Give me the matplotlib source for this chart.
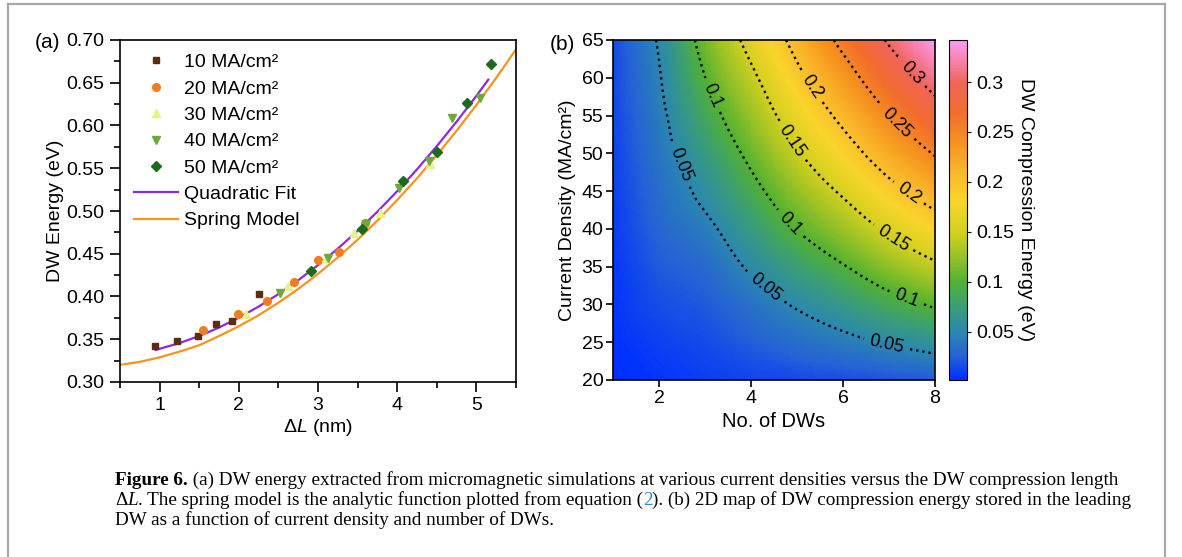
import matplotlib
matplotlib.use("Agg")
import matplotlib.pyplot as plt
import matplotlib.tri as mtri
import numpy as np
from matplotlib.colors import LinearSegmentedColormap, Normalize
from matplotlib.lines import Line2D
from matplotlib.ticker import FormatStrFormatter, MultipleLocator

plt.rcParams["font.family"] = ["Liberation Sans", "DejaVu Sans"]
plt.rcParams["mathtext.fontset"] = "custom"
plt.rcParams["mathtext.rm"] = "Liberation Sans"
plt.rcParams["mathtext.it"] = "Liberation Sans:italic"
plt.rcParams["mathtext.bf"] = "Liberation Sans:bold"

# ---- panel (a): DW energy vs compression length ----
dl_10 = [0.94, 1.22, 1.48, 1.71, 1.92, 2.25]
e_10 = [0.342, 0.348, 0.354, 0.3675, 0.371, 0.403]
dl_20 = [1.55, 1.99, 2.36, 2.70, 3.00, 3.26, 3.59]
e_20 = [0.361, 0.380, 0.395, 0.417, 0.443, 0.452, 0.486]
dl_30 = [2.09, 2.62, 3.10, 3.46, 3.78, 4.41]
e_30 = [0.380, 0.412, 0.445, 0.474, 0.498, 0.555]
dl_40 = [2.52, 3.12, 3.61, 4.02, 4.40, 4.69, 5.04]
e_40 = [0.404, 0.445, 0.485, 0.527, 0.559, 0.609, 0.632]
dl_50 = [2.91, 3.56, 4.07, 4.50, 4.88, 5.18]
e_50 = [0.430, 0.4785, 0.5355, 0.5686, 0.626, 0.6716]

fit_dl = [0.95, 1.25, 1.5, 1.75, 2.0, 2.25, 2.5, 2.75, 3.0, 3.25, 3.5,
          3.75, 4.0, 4.25, 4.5, 4.75, 5.0, 5.15]
fit_e = [0.3375, 0.3455, 0.3538, 0.3637, 0.3752, 0.3882, 0.4028, 0.4190,
         0.4367, 0.4560, 0.4768, 0.4992, 0.5232, 0.5487, 0.5758, 0.6045,
         0.6347, 0.6536]
spring_dl = [0.5, 0.75, 1.0, 1.25, 1.5, 1.75, 2.0, 2.25, 2.5, 2.75, 3.0,
             3.25, 3.5, 3.75, 4.0, 4.25, 4.5, 4.75, 5.0, 5.25, 5.5]
spring_e = [0.3200, 0.3236, 0.3288, 0.3355, 0.3430, 0.3537, 0.3652, 0.3781,
            0.3927, 0.4088, 0.4265, 0.4457, 0.4664, 0.4889, 0.5128, 0.5382,
            0.5653, 0.5939, 0.6240, 0.6557, 0.6890]

# ---- panel (b): compression energy map ----
n_dw = [1, 2, 3, 4, 5, 6, 7, 8]
j_cur = [20, 25, 30, 35, 40, 45, 50, 55, 60, 65]
energy = [
    [0.002, 0.005, 0.009, 0.012, 0.014, 0.016, 0.019, 0.022],
    [0.003, 0.010, 0.015, 0.024, 0.033, 0.042, 0.053, 0.0625],
    [0.005, 0.016, 0.022, 0.036, 0.053, 0.070, 0.088, 0.104],
    [0.006, 0.022, 0.031, 0.054, 0.077, 0.098, 0.122, 0.144],
    [0.008, 0.028, 0.0435, 0.072, 0.101, 0.127, 0.156, 0.182],
    [0.009, 0.033, 0.0576, 0.090, 0.124, 0.155, 0.189, 0.218],
    [0.011, 0.038, 0.0716, 0.108, 0.147, 0.183, 0.220, 0.2525],
    [0.012, 0.043, 0.0857, 0.126, 0.169, 0.209, 0.249, 0.284],
    [0.014, 0.048, 0.0997, 0.143, 0.191, 0.234, 0.277, 0.314],
    [0.015, 0.053, 0.113, 0.161, 0.212, 0.259, 0.304, 0.342],
]
contour_levels = [0.05, 0.1, 0.15, 0.2, 0.25, 0.3]
label_spots = [(2.49, 48.5), (4.30, 32.1), (6.95, 24.6),
               (3.16, 57.7), (4.85, 40.7), (7.38, 30.8),
               (4.85, 51.5), (7.06, 38.5),
               (5.28, 58.6), (7.42, 44.7),
               (7.17, 54.0), (7.49, 60.6)]

cmap = LinearSegmentedColormap.from_list("dw", [
    (0.000, "#0030ff"), (0.068, "#2563d6"), (0.141, "#2b88b0"),
    (0.215, "#3b9e78"), (0.288, "#52b232"), (0.362, "#98c226"),
    (0.435, "#d3d01f"), (0.524, "#fad52c"), (0.612, "#f9b82a"),
    (0.700, "#f6921f"), (0.788, "#f26d2c"), (0.876, "#f0655a"),
    (1.000, "#fb9cf5")])
norm = Normalize(vmin=0.002, vmax=0.342)

W, H = 1182, 557
fig = plt.figure(figsize=(W / 100, H / 100), dpi=100)


def box(l, t, r, b):
    return [l / W, 1 - b / H, (r - l) / W, (b - t) / H]


# ---------- (a) ----------
ax = fig.add_axes(box(120, 40, 516, 382))
ax.plot(dl_10, e_10, ls="none", marker="s", ms=5, color="#5a2d0c", label="10 MA/cm²", zorder=3)
ax.plot(dl_20, e_20, ls="none", marker="o", ms=5.5, color="#f47c20", label="20 MA/cm²", zorder=3)
ax.plot(dl_30, e_30, ls="none", marker="^", ms=6, color="#e6f28a", label="30 MA/cm²", zorder=3)
ax.plot(dl_40, e_40, ls="none", marker="v", ms=6, color="#6ca83a", label="40 MA/cm²", zorder=3)
ax.plot(dl_50, e_50, ls="none", marker="D", ms=5, color="#1b6b1b", label="50 MA/cm²", zorder=3)
ax.plot(fit_dl, fit_e, color="#8a2be2", lw=1.6, label="Quadratic Fit", zorder=2)
ax.plot(spring_dl, spring_e, color="#f7931e", lw=1.6, label="Spring Model", zorder=2)
ax.set_xlim(0.5, 5.5)
ax.set_ylim(0.30, 0.70)
ax.xaxis.set_major_locator(MultipleLocator(1))
ax.xaxis.set_minor_locator(MultipleLocator(0.5))
ax.yaxis.set_major_locator(MultipleLocator(0.05))
ax.yaxis.set_minor_locator(MultipleLocator(0.025))
ax.yaxis.set_major_formatter(FormatStrFormatter("%.2f"))
ax.tick_params(which="both", direction="out", width=1.2, labelsize=14, pad=4)
ax.tick_params(which="major", length=7)
ax.tick_params(which="minor", length=4)
for s in ax.spines.values():
    s.set_linewidth(1.2)
ax.set_xlabel(r"$\Delta L$ (nm)", fontsize=14, labelpad=2)
ax.set_ylabel("DW Energy (eV)", fontsize=14, labelpad=2)
ax.legend(loc="upper left", frameon=False, fontsize=14, handlelength=2.3,
          handletextpad=0.3, labelspacing=0.45, borderaxespad=0.2, borderpad=0.5)
fig.text(35 / W, 1 - 43 / H, "(a)", fontsize=15, va="center")

# ---------- (b) ----------
bx = fig.add_axes(box(613, 40, 935, 380))
nn, jj = np.meshgrid(n_dw, j_cur)
tri = mtri.Triangulation(nn.ravel(), jj.ravel())
zz = np.asarray(energy).ravel()
refiner = mtri.UniformTriRefiner(tri)
interp = mtri.CubicTriInterpolator(tri, zz, kind="geom")
tri_f, z_f = refiner.refine_field(zz, triinterpolator=interp, subdiv=4)
pc = bx.tripcolor(tri_f, z_f, shading="gouraud", cmap=cmap, norm=norm, rasterized=True)
cs = bx.tricontour(tri_f, z_f, levels=contour_levels, colors="black",
                   linestyles=":", linewidths=1.7)
bx.clabel(cs, fmt="%g", fontsize=13, inline=True, inline_spacing=6, manual=label_spots)
bx.set_xlim(1, 8)
bx.set_ylim(20, 65)
bx.set_xticks([2, 4, 6, 8])
bx.set_yticks(j_cur)
bx.tick_params(direction="out", length=5, width=1.2, labelsize=14, pad=2)
for s in bx.spines.values():
    s.set_linewidth(1.2)
bx.set_xlabel("No. of DWs", fontsize=14.5, labelpad=4)
bx.set_ylabel("Current Density (MA/cm²)", fontsize=14, labelpad=4)
fig.text(550 / W, 1 - 45 / H, "(b)", fontsize=15, va="center")

cax = fig.add_axes(box(949, 40, 967, 380))
cb = fig.colorbar(pc, cax=cax, ticks=[0.05, 0.1, 0.15, 0.2, 0.25, 0.3], format="%g")
cb.outline.set_linewidth(0.8)
cax.tick_params(direction="out", length=3, width=0.8, labelsize=14, pad=4)
cb.set_label("DW Compression Energy (eV)", fontsize=14, rotation=270, labelpad=14)

# ---------- caption ----------
cap = fig.add_axes([0, 0, 1, 1], zorder=-1)
cap.axis("off")
serif = dict(family=["Liberation Serif", "DejaVu Serif"], fontsize=13.8)


def caption_line(pieces, y):
    prev = None
    for txt, extra in pieces:
        kw = dict(serif)
        kw.update(extra)
        if prev is None:
            prev = cap.annotate(txt, xy=(115, H - y), xycoords="figure pixels",
                                va="baseline", ha="left", **kw)
        else:
            prev = cap.annotate(txt, xy=(1, H - y), xycoords=(prev, "figure pixels"),
                                va="baseline", ha="left", **kw)


caption_line([("Figure 6.", {"weight": "bold"}),
              (" (a) DW energy extracted from micromagnetic simulations at various current "
               "densities versus the DW compression length", {})], 485)
caption_line([("Δ", {}), ("L", {"style": "italic"}),
              (". The spring model is the analytic function plotted from equation (", {}),
              ("2", {"color": "#2a8fd0"}),
              ("). (b) 2D map of DW compression energy stored in the leading", {})], 505)
caption_line([("DW as a function of current density and number of DWs.", {})], 525)

# frame
for xs, ys in [((8, 1165), (4, 4)), ((8, 8), (4, H)), ((1165, 1165), (4, H))]:
    fig.add_artist(Line2D([x / W for x in xs], [1 - y / H for y in ys],
                          transform=fig.transFigure, color="#a8a8a8", lw=1.6))

fig.savefig("out.png", dpi=100)
